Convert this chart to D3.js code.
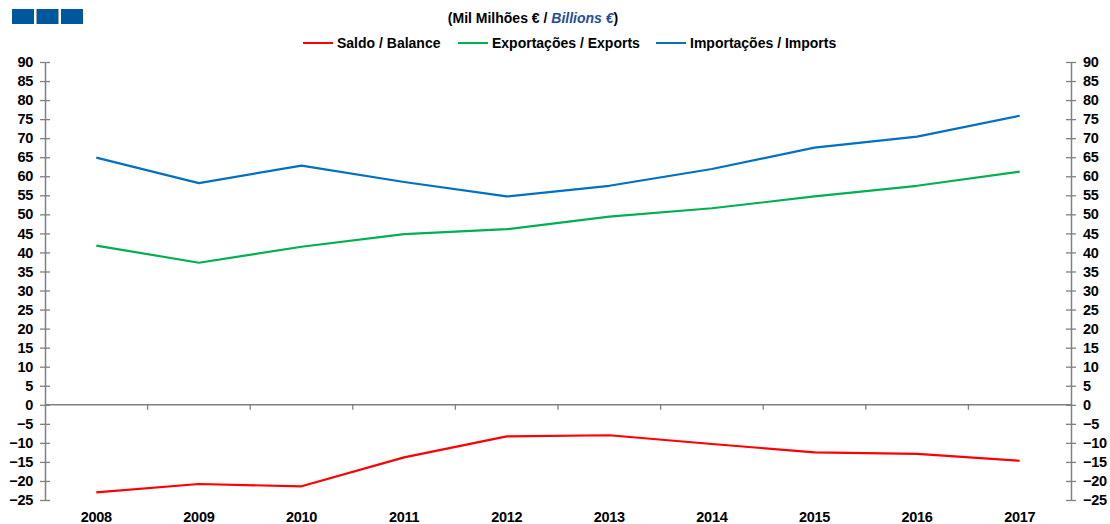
<!DOCTYPE html>
<html><head><meta charset="utf-8">
<script src="https://cdn.jsdelivr.net/npm/d3@7"></script>
<style>
body{margin:0;background:#fff;}
text{font-family:"Liberation Sans",Arial,sans-serif;font-weight:bold;fill:#000;}
</style></head>
<body><svg id="c" width="1110" height="524"></svg>
<script>
const years = ["2008","2009","2010","2011","2012","2013","2014","2015","2016","2017"];
const balance = [-23.0,-20.8,-21.4,-13.8,-8.3,-8.0,-10.3,-12.5,-12.9,-14.7];
const exportsV = [41.8,37.3,41.5,44.8,46.1,49.4,51.6,54.7,57.5,61.2];
const importsV = [64.9,58.2,62.8,58.5,54.7,57.5,61.9,67.5,70.4,75.9];
const yTicks = [90,85,80,75,70,65,60,55,50,45,40,35,30,25,20,15,10,5,0,-5,-10,-15,-20,-25];
const seriesNames = ["Saldo / Balance","Exportações / Exports","Importações / Imports"];
const colors = ["#ff0000","#00b050","#0070c0"];

const svg = d3.select("#c");
const L = 45, R = 1071, T = 62, B = 500;
const x = d3.scaleBand().domain(years).range([L, R]);
const y = d3.scaleLinear().domain([-25, 90]).range([B, T]);

// header squares
[0,1,2].forEach(i => svg.append("rect").attr("x", 12 + i*24.5).attr("y", 9).attr("width", 22).attr("height", 15).attr("fill", "#00589c"));

// title
const t = svg.append("text").attr("x", 533).attr("y", 23).attr("text-anchor", "middle").style("font-size","14px");
t.append("tspan").text("(Mil Milhões € / ");
t.append("tspan").text("Billions  €").style("font-style","italic").style("fill","#1f4e99");
t.append("tspan").text(")");

// legend
const legX = [303, 458, 656];
seriesNames.forEach((n,i) => {
  svg.append("line").attr("x1", legX[i]).attr("x2", legX[i]+30).attr("y1", 43).attr("y2", 43).attr("stroke", colors[i]).attr("stroke-width", 2);
  svg.append("text").attr("x", legX[i]+34).attr("y", 48).text(n).style("font-size","14px");
});

// y axes
const axL = d3.axisLeft(y).tickValues(yTicks).tickSize(0).tickPadding(12);
const gl = svg.append("g").attr("transform", `translate(${L},0)`).call(axL);
const axR = d3.axisRight(y).tickValues(yTicks).tickSize(0).tickPadding(12);
const gr = svg.append("g").attr("transform", `translate(${R},0)`).call(axR);
[gl, gr].forEach(g => {
  g.select(".domain").attr("stroke", "#808080").attr("stroke-width", 1.5);
  g.selectAll(".tick").append("line").attr("x1", -5).attr("x2", 5).attr("stroke", "#808080").attr("stroke-width", 1.3);
  g.selectAll(".tick text").style("font-size","14.5px").style("font-family","'Liberation Sans',Arial,sans-serif").style("font-weight","bold").style("letter-spacing","-0.3px").attr("fill","#000");
});

// zero line with category ticks
const gx = svg.append("g").attr("transform", `translate(0,${y(0)})`);
gx.append("line").attr("x1", L).attr("x2", R).attr("stroke", "#808080").attr("stroke-width", 1.5);
years.slice(1).forEach(yr => gx.append("line").attr("x1", x(yr)).attr("x2", x(yr)).attr("y1", 0).attr("y2", 5).attr("stroke", "#808080").attr("stroke-width", 1.3));

// x labels
svg.selectAll(".xl").data(years).enter().append("text")
  .attr("x", d => x(d) + x.bandwidth()/2).attr("y", 522).attr("text-anchor","middle")
  .style("font-size","14.5px").style("letter-spacing","-0.3px").text(d => d);

// lines
const line = d3.line().x((d,i) => x(years[i]) + x.bandwidth()/2).y(d => y(d));
[balance, exportsV, importsV].forEach((s,i) => {
  svg.append("path").datum(s).attr("d", line).attr("fill","none").attr("stroke", colors[i]).attr("stroke-width", 2.2).attr("stroke-linejoin","round");
});
</script></body></html>
